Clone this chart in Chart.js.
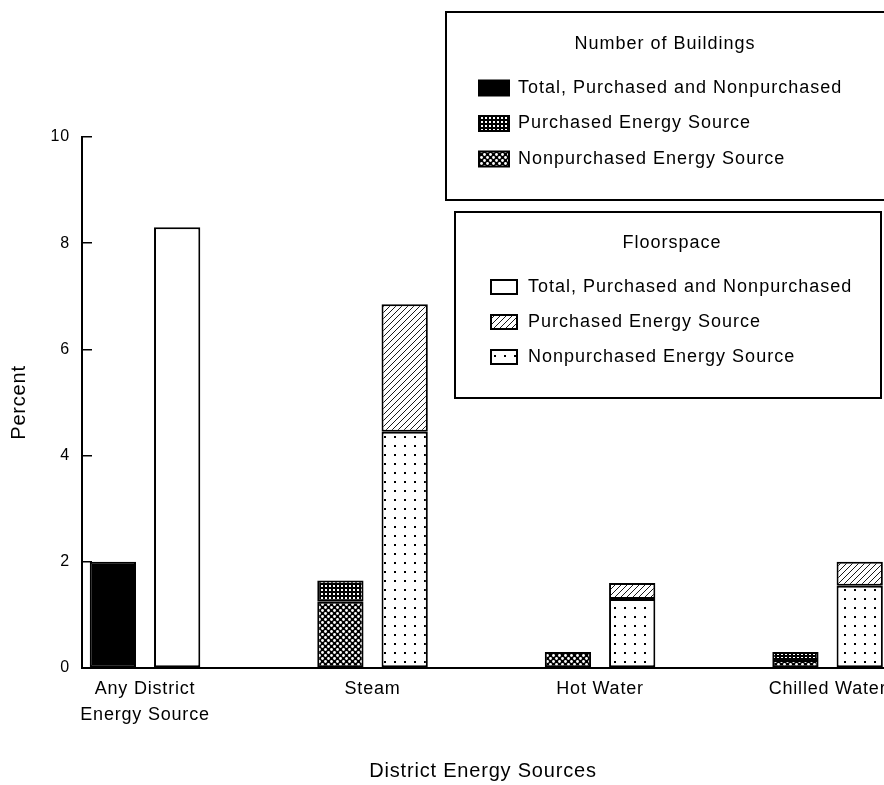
<!DOCTYPE html>
<html lang="en">
<head>
<meta charset="UTF-8">
<title>District Energy Sources</title>
<script src="https://cdn.jsdelivr.net/npm/chart.js@4"></script>
<style>
  body { margin: 0; background: #fff; }
  #wrap { width: 884px; height: 785px; position: relative; }
</style>
</head>
<body>
<div id="wrap"><canvas id="chart"></canvas></div>
<script>
const categories = [['Any District', 'Energy Source'], 'Steam', 'Hot Water', 'Chilled Water'];
const yTicks = [0, 2, 4, 6, 8, 10];
const groupTitles = ['Number of Buildings', 'Floorspace'];
const seriesNames = ['Total, Purchased and Nonpurchased', 'Purchased Energy Source', 'Nonpurchased Energy Source'];

// percent of buildings
const bldTotal = [2.0, null, null, null];
const bldNonpurchased = [null, 1.25, 0.3, 0.15];
const bldPurchased = [null, 0.4, null, 0.15];

// percent of floorspace
const flrTotal = [8.3, null, null, null];
const flrNonpurchased = [null, 4.45, 1.3, 1.55];
const flrPurchased = [null, 2.4, 0.3, 0.45];

const fontFamily = "'Liberation Sans', Arial, Helvetica, sans-serif";
const ctx = document.getElementById('chart').getContext('2d');

function makePattern(w, h, paint) {
    const c = document.createElement('canvas');
    c.width = w;
    c.height = h;
    paint(c.getContext('2d'));
    return ctx.createPattern(c, 'repeat');
}

// black with small white squares
const gridFill = makePattern(4, 4, g => {
    g.fillStyle = '#000';
    g.fillRect(0, 0, 4, 4);
    g.fillStyle = '#fff';
    g.fillRect(1, 1, 2, 2);
});
// black lattice with white dots
const crossFill = makePattern(6, 6, g => {
    g.fillStyle = '#000';
    g.fillRect(0, 0, 6, 6);
    g.fillStyle = '#fff';
    [[1.5, 1.5], [4.5, 4.5]].forEach(([x, y]) => {
        g.beginPath();
        g.arc(x, y, 1.4, 0, Math.PI * 2);
        g.fill();
    });
});
// thin diagonal lines
const hatchFill = makePattern(6, 6, g => {
    g.fillStyle = '#fff';
    g.fillRect(0, 0, 6, 6);
    g.strokeStyle = '#000';
    g.lineWidth = 0.9;
    g.beginPath();
    g.moveTo(0, 6); g.lineTo(6, 0);
    g.moveTo(-1, 1); g.lineTo(1, -1);
    g.moveTo(5, 7); g.lineTo(7, 5);
    g.stroke();
});
// sparse dots
const dotFill = makePattern(10, 9, g => {
    g.fillStyle = '#fff';
    g.fillRect(0, 0, 10, 9);
    g.fillStyle = '#000';
    g.fillRect(4, 4, 2, 2);
});

const datasets = [
    { label: seriesNames[0], group: 0, stack: 'bld', data: bldTotal, backgroundColor: '#000' },
    { label: seriesNames[2], group: 0, stack: 'bld', data: bldNonpurchased, backgroundColor: crossFill },
    { label: seriesNames[1], group: 0, stack: 'bld', data: bldPurchased, backgroundColor: gridFill },
    { label: seriesNames[0], group: 1, stack: 'flr', data: flrTotal, backgroundColor: '#fff' },
    { label: seriesNames[2], group: 1, stack: 'flr', data: flrNonpurchased, backgroundColor: dotFill },
    { label: seriesNames[1], group: 1, stack: 'flr', data: flrPurchased, backgroundColor: hatchFill }
].map(d => Object.assign({
    borderColor: '#000',
    borderWidth: 2,
    borderSkipped: false,
    barPercentage: 0.72,
    categoryPercentage: 0.565
}, d));

// the scanned lettering is wide, so space all text out a little
const wideText = {
    id: 'wideText',
    beforeLayout(chart) { chart.ctx.letterSpacing = '0.8px'; },
    beforeDraw(chart) { chart.ctx.letterSpacing = '0.8px'; }
};

// two boxed legends, one per stack group
const boxLegend = {
    id: 'boxLegend',
    afterDraw(chart, args, opts) {
        const c = chart.ctx;
        c.save();
        c.letterSpacing = '1px';
        opts.boxes.forEach((b, g) => {
            c.fillStyle = '#fff';
            c.fillRect(b.x, b.y, b.w, b.h);
            c.strokeStyle = '#000';
            c.lineWidth = 2;
            c.strokeRect(b.x, b.y, b.w, b.h);

            c.fillStyle = '#000';
            c.font = '18px ' + fontFamily;
            c.textAlign = 'center';
            c.textBaseline = 'middle';
            c.fillText(groupTitles[g], b.x + b.titleX, b.y + b.titleY);

            c.textAlign = 'left';
            const items = chart.data.datasets
                .filter(d => d.group === g)
                .sort((p, q) => seriesNames.indexOf(p.label) - seriesNames.indexOf(q.label));
            items.forEach((d, i) => {
                const y = b.y + b.rowY + i * b.rowGap;
                c.fillStyle = d.backgroundColor;
                c.fillRect(b.x + b.swX, y - b.swH / 2, b.swW, b.swH);
                c.strokeRect(b.x + b.swX, y - b.swH / 2, b.swW, b.swH);
                c.fillStyle = '#000';
                c.fillText(d.label, b.x + b.textX, y);
            });
        });
        c.restore();
    }
};

new Chart(ctx, {
    type: 'bar',
    data: {
        labels: categories.map((_, i) => i),
        datasets: datasets
    },
    plugins: [wideText, boxLegend],
    options: {
        responsive: true,
        maintainAspectRatio: false,
        animation: false,
        layout: { padding: { top: 137, right: 0, bottom: 0, left: 0 } },
        plugins: {
            legend: { display: false },
            tooltip: { enabled: false },
            boxLegend: {
                boxes: [
                    { x: 446, y: 12, w: 440, h: 188, titleX: 219, titleY: 32, rowY: 76, rowGap: 35.5, swX: 33, swW: 30, swH: 15, textX: 72 },
                    { x: 455, y: 212, w: 426, h: 186, titleX: 217, titleY: 31, rowY: 75, rowGap: 35, swX: 36, swW: 26, swH: 14, textX: 73 }
                ]
            }
        },
        scales: {
            x: {
                type: 'linear',
                offset: false,
                min: -0.277,
                max: 3.248,
                afterBuildTicks: s => { s.ticks = categories.map((_, i) => ({ value: i })); },
                afterFit: s => {
                    s.height = 117;
                    // plot runs to the right edge, the last label may touch it
                    s.paddingLeft = 0;
                    s.paddingRight = 0;
                },
                grid: { display: false, drawTicks: false, offset: false },
                border: { display: true, color: '#000', width: 2 },
                ticks: {
                    callback: v => categories[v] ?? '',
                    color: '#000',
                    font: { family: fontFamily, size: 18, lineHeight: 1.45 },
                    padding: 8,
                    maxRotation: 0,
                    autoSkip: false
                },
                title: {
                    display: true,
                    text: 'District Energy Sources',
                    color: '#000',
                    font: { family: fontFamily, size: 20 },
                    padding: { top: 0, bottom: 2 }
                }
            },
            y: {
                stacked: true,
                min: 0,
                max: 10,
                afterBuildTicks: s => { s.ticks = yTicks.map(v => ({ value: v })); },
                afterFit: s => { s.width = 82; },
                grid: { drawOnChartArea: false, drawTicks: true, tickLength: -10, color: '#000', lineWidth: 1.5 },
                border: { display: true, color: '#000', width: 2 },
                ticks: {
                    color: '#000',
                    font: { family: fontFamily, size: 16 },
                    padding: 22
                },
                title: {
                    display: true,
                    text: 'Percent',
                    color: '#000',
                    font: { family: fontFamily, size: 20 },
                    padding: { top: 7, bottom: 0 }
                }
            }
        }
    }
});
</script>
</body>
</html>
